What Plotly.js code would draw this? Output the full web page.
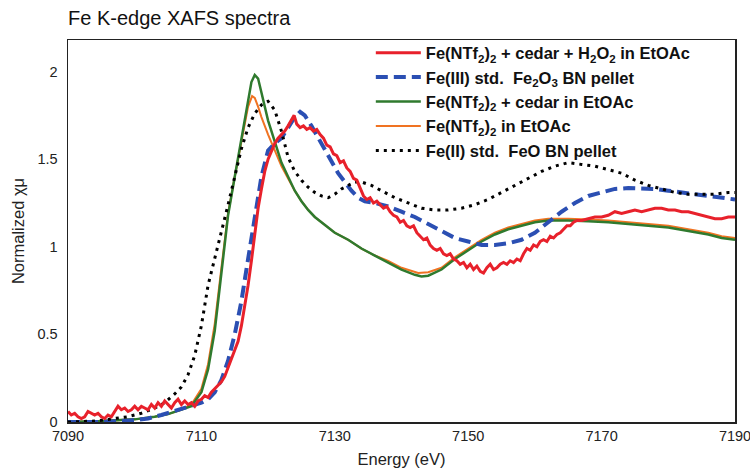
<!DOCTYPE html>
<html><head><meta charset="utf-8">
<script src="https://cdn.plot.ly/plotly-3.0.1.min.js"></script>
<style>html,body{margin:0;padding:0;background:#fff}</style>
</head><body><div id="chart" style="width:750px;height:474px"></div>
<script>
// ---- Data ----
const redE = [7090,7090.5,7091,7091.5,7092,7092.5,7093,7093.5,7094,7094.5,7095,7095.5,7096,7096.5,7097,7097.5,7098,7098.5,7099,7099.5,7100,7100.5,7101,7101.5,7102,7102.5,7103,7103.5,7104,7104.5,7105,7105.5,7106,7106.5,7107,7107.5,7108,7108.5,7109,7109.5,7110,7110.5,7111,7111.5,7112,7112.5,7113,7113.5,7114,7114.5,7115,7115.5,7116,7116.5,7117,7117.5,7118,7118.5,7119,7119.5,7120,7120.5,7121,7121.5,7122,7122.5,7123,7123.5,7123.9,7124.3,7124.8,7125.3,7125.8,7126.3,7126.8,7127.3,7127.8,7128.3,7128.8,7129.3,7129.8,7130.3,7130.8,7131.3,7131.8,7132.3,7132.8,7133.3,7133.8,7134.3,7134.8,7135.3,7135.8,7136.3,7136.8,7137.3,7137.8,7138.3,7138.8,7139.3,7139.8,7140.3,7140.8,7141.3,7141.8,7142.3,7142.8,7143.3,7143.8,7144.3,7144.8,7145.3,7145.8,7146.3,7146.8,7147.3,7147.8,7148.3,7148.8,7149.3,7149.8,7150.3,7150.8,7151.3,7151.8,7152.3,7152.8,7153.3,7153.8,7154.3,7154.8,7155.3,7155.8,7156.3,7156.8,7157.3,7157.8,7158.3,7158.8,7159.3,7159.8,7160.3,7160.8,7161.3,7161.8,7162.3,7162.8,7163.3,7163.8,7164.3,7164.8,7165.3,7165.8,7166.3,7167,7168,7169,7170,7171,7172,7173,7174,7175,7176,7177,7178,7179,7180,7181,7182,7183,7184,7185,7186,7187,7188,7189,7190];
const redY = [0.06,0.04,0.05,0.03,0.02,0.03,0.06,0.05,0.04,0.05,0.03,0.02,0.04,0.03,0.06,0.09,0.07,0.08,0.06,0.07,0.09,0.07,0.09,0.08,0.07,0.10,0.08,0.11,0.09,0.12,0.10,0.08,0.11,0.13,0.10,0.12,0.10,0.11,0.09,0.12,0.13,0.15,0.14,0.17,0.19,0.21,0.23,0.26,0.31,0.36,0.40,0.46,0.55,0.66,0.78,0.92,1.08,1.22,1.33,1.43,1.50,1.55,1.59,1.62,1.64,1.66,1.69,1.72,1.75,1.70,1.68,1.69,1.67,1.68,1.66,1.67,1.64,1.62,1.58,1.57,1.53,1.52,1.48,1.49,1.45,1.43,1.39,1.38,1.33,1.29,1.27,1.28,1.25,1.26,1.24,1.22,1.23,1.20,1.18,1.17,1.14,1.15,1.12,1.11,1.12,1.08,1.06,1.04,1.05,1.01,0.99,0.98,0.99,0.96,0.95,0.96,0.93,0.92,0.90,0.91,0.88,0.90,0.87,0.89,0.86,0.85,0.88,0.90,0.87,0.88,0.90,0.91,0.90,0.92,0.91,0.93,0.92,0.96,0.99,0.98,1.01,1.00,1.03,1.04,1.03,1.06,1.05,1.07,1.08,1.10,1.12,1.12,1.14,1.15,1.15,1.16,1.17,1.17,1.18,1.20,1.19,1.20,1.21,1.20,1.21,1.22,1.22,1.21,1.21,1.20,1.20,1.19,1.18,1.17,1.16,1.16,1.17,1.17];

const blueE = [7090,7095,7100,7102,7104,7106,7108,7110,7111,7112,7113,7114,7115,7116,7117,7118,7119,7120,7120.5,7121,7122,7123,7124,7124.8,7125.5,7126.5,7127.5,7128.5,7129.5,7130.5,7131.5,7132.5,7133.5,7134.5,7136,7138,7140,7142,7144,7146,7148,7150,7152,7154,7156,7158,7160,7162,7164,7166,7168,7170,7172,7174,7176,7178,7180,7182,7184,7186,7188,7190];
const blueY = [0.0,0.0,0.01,0.02,0.04,0.065,0.085,0.11,0.13,0.17,0.24,0.35,0.50,0.69,0.93,1.17,1.40,1.55,1.57,1.59,1.62,1.68,1.74,1.77,1.75,1.69,1.62,1.55,1.48,1.42,1.37,1.32,1.28,1.26,1.25,1.23,1.20,1.17,1.13,1.09,1.05,1.03,1.01,1.01,1.02,1.04,1.08,1.14,1.20,1.25,1.29,1.31,1.33,1.335,1.335,1.33,1.32,1.31,1.30,1.29,1.28,1.27];

const greenE = [7090,7095,7100,7103,7105,7107,7108.5,7110,7111,7112,7113,7114,7115,7116,7117,7117.5,7118,7118.5,7119,7120,7121,7122,7123,7124,7125,7126,7127,7128,7129,7130,7132,7134,7136,7138,7140,7142,7143,7144,7146,7148,7150,7152,7154,7156,7158,7160,7162,7165,7168,7171,7174,7177,7180,7183,7186,7188,7190];
const greenY = [0.0,0.005,0.015,0.03,0.045,0.07,0.09,0.17,0.30,0.52,0.85,1.18,1.40,1.62,1.85,1.94,1.98,1.96,1.88,1.72,1.60,1.48,1.40,1.32,1.26,1.21,1.17,1.14,1.11,1.08,1.04,0.99,0.95,0.91,0.87,0.84,0.83,0.835,0.87,0.93,0.98,1.03,1.07,1.10,1.12,1.14,1.15,1.15,1.145,1.14,1.13,1.12,1.11,1.09,1.07,1.05,1.04];

const orangeE = [7090,7095,7100,7103,7105,7107,7108.5,7110,7111,7112,7113,7114,7115,7116,7117,7117.6,7118,7118.5,7119,7120,7121,7122,7123,7124,7125,7126,7127,7128,7129,7130,7132,7134,7136,7138,7140,7142,7142.5,7144,7146,7148,7150,7152,7154,7156,7158,7160,7162,7165,7168,7171,7174,7177,7180,7183,7186,7188,7190];
const orangeY = [0.0,0.005,0.015,0.03,0.045,0.07,0.10,0.19,0.33,0.56,0.88,1.19,1.40,1.60,1.80,1.86,1.85,1.80,1.74,1.64,1.55,1.46,1.39,1.32,1.26,1.21,1.17,1.14,1.11,1.08,1.04,0.99,0.95,0.92,0.88,0.855,0.85,0.855,0.88,0.94,0.99,1.04,1.08,1.11,1.13,1.15,1.16,1.16,1.155,1.15,1.14,1.13,1.12,1.10,1.08,1.06,1.05];

const blackE = [7090,7094,7097,7099,7101,7103,7104.5,7106,7107,7108,7109,7110,7111,7112,7113,7114,7115,7116,7117,7118,7119,7120,7121,7122,7123,7124,7125,7126,7127,7128,7129,7130,7131,7132,7133,7134,7135.5,7137,7139,7141,7143,7145,7147,7149,7151,7153,7155,7157,7159,7161,7163,7165,7167,7169,7171,7173,7175,7177,7179,7181,7183,7185,7187,7189,7190];
const blackY = [0.0,0.005,0.02,0.03,0.05,0.08,0.11,0.16,0.20,0.27,0.38,0.55,0.78,0.93,1.08,1.24,1.40,1.56,1.68,1.76,1.81,1.83,1.78,1.66,1.51,1.43,1.38,1.34,1.31,1.29,1.28,1.30,1.33,1.35,1.37,1.37,1.35,1.32,1.28,1.25,1.22,1.21,1.21,1.22,1.24,1.27,1.31,1.35,1.39,1.43,1.46,1.48,1.47,1.46,1.44,1.42,1.38,1.35,1.33,1.31,1.30,1.30,1.30,1.31,1.31];

const names = [
  'Fe(NTf<sub>2</sub>)<sub>2</sub> + cedar + H<sub>2</sub>O<sub>2</sub> in EtOAc',
  'Fe(III) std.  Fe<sub>2</sub>O<sub>3</sub> BN pellet',
  'Fe(NTf<sub>2</sub>)<sub>2</sub> + cedar in EtOAc',
  'Fe(NTf<sub>2</sub>)<sub>2</sub> in EtOAc',
  'Fe(II) std.  FeO BN pellet'
];
const xTicks = [7090,7110,7130,7150,7170,7190];
const yTicks = [0,0.5,1,1.5,2];

const traces = [
  {x: orangeE, y: orangeY, name: names[3], legendrank: 4, legendgroup:'d', line:{color:'#f07322', width:2}},
  {x: greenE, y: greenY, name: names[2], legendrank: 3, legendgroup:'c', line:{color:'#2f7a2e', width:2.5}},
  {x: blueE, y: blueY, name: names[1], legendrank: 2, legendgroup:'b', line:{color:'#2b4fb3', width:4, dash:'12px,6px'}},
  {x: blackE, y: blackY, name: names[4], legendrank: 5, legendgroup:'e', line:{color:'#000000', width:3, dash:'3px,5px'}},
  {x: redE, y: redY, name: names[0], legendrank: 1, legendgroup:'a', line:{color:'#e8212b', width:3}}
].map(t => Object.assign({type:'scatter', mode:'lines', hoverinfo:'skip'}, t));

const fam = 'Liberation Sans, Arial, sans-serif';
const tickFont = {family:fam, size:14.5, color:'#222'};
const layout = {
  width:750, height:474,
  margin:{l:68, r:15, t:40, b:52},
  paper_bgcolor:'#fff', plot_bgcolor:'#fff',
  title:{text:'Fe K-edge XAFS spectra', x:68/750, xanchor:'left', xref:'container', y:0.962, yanchor:'middle',
         font:{family:fam, size:20, color:'#111'}},
  xaxis:{range:[7090,7190], tickvals:xTicks, ticktext:xTicks.map(String), showgrid:false, zeroline:false,
         showline:true, mirror:true, linecolor:'#222', linewidth:1.5, ticks:'', tickfont:tickFont,
         ticklabeloverflow:'allow',
         title:{text:'Energy (eV)', font:{family:fam, size:16.5, color:'#222'}, standoff:10}},
  yaxis:{range:[0,2.18], tickvals:yTicks, ticktext:yTicks.map(String), showgrid:false, zeroline:false,
         showline:true, mirror:true, linecolor:'#222', linewidth:1.5, ticks:'', tickfont:tickFont,
         ticklabelstandoff:6,
         title:{text:'Normalized χμ', font:{family:fam, size:16.5, color:'#222'}, standoff:8}},
  showlegend:true,
  legend:{x:0.454, xanchor:'left', y:1.012, yanchor:'top', bgcolor:'rgba(255,255,255,0)', borderwidth:0,
          traceorder:'grouped', tracegroupgap:0, itemwidth:45,
          font:{family:fam, size:16.5, color:'#111', weight:'bold'}}
};
Plotly.newPlot('chart', traces, layout, {displayModeBar:false, staticPlot:true});
</script></body></html>
